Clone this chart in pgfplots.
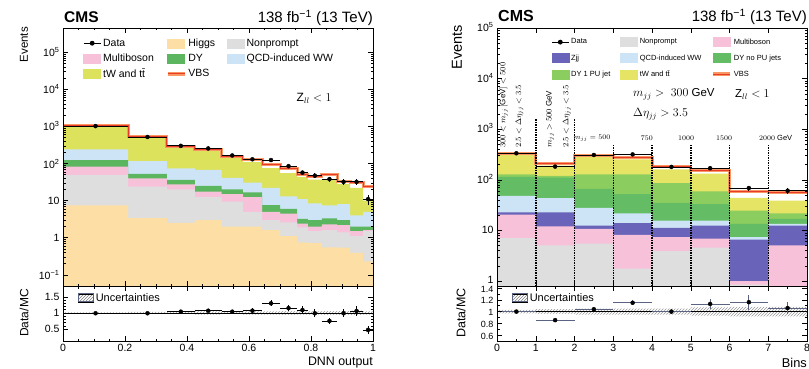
\documentclass[border=0pt]{standalone}
\usepackage{fontspec}
\setmainfont{Liberation Sans}
\usepackage{pgfplots}
\usepackage{pgfplotstable}
\pgfplotsset{compat=1.18}
\usetikzlibrary{patterns}

\definecolor{higgs}{RGB}{253,222,165}
\definecolor{nonp}{RGB}{222,222,222}
\definecolor{multib}{RGB}{247,193,218}
\definecolor{dyg}{RGB}{92,182,96}
\definecolor{qcdww}{RGB}{204,228,245}
\definecolor{twl}{RGB}{220,226,92}
\definecolor{twr}{RGB}{230,228,100}
\definecolor{vbsred}{RGB}{232,60,40}
\definecolor{vbsor}{RGB}{248,150,100}
\definecolor{zjj}{RGB}{105,100,185}
\definecolor{dyno}{RGB}{100,188,100}
\definecolor{dyone}{RGB}{140,205,95}
\definecolor{unc}{RGB}{90,100,130}

\newcommand\swatch[1]{\addlegendimage{legend image code/.code={\fill[#1] (0pt,-4.5pt) rectangle (17pt,4.5pt);}}}
\newcommand\vbsleg{\addlegendimage{legend image code/.code={\draw[vbsor, line width=3.5pt] (0pt,0pt) -- (17pt,0pt); \draw[vbsred, line width=1.2pt] (0pt,0pt) -- (17pt,0pt);}}}
\newcommand\uncleg{\addlegendimage{legend image code/.code={\fill[pattern=north east lines, pattern color=gray] (0pt,-4pt) rectangle (15pt,4pt); \draw[line width=0.6pt, unc] (0pt,-4pt) rectangle (15pt,4pt);}}}

\pgfplotsset{
  cms/.style={
    scale only axis, width=310pt,
    tick align=inside,
    major tick length=5pt, minor tick length=2.5pt,
    axis line style={line width=0.7pt},
    every tick/.style={black, line width=0.5pt},
    tick label style={font=\fontsize{10.5}{12}\selectfont},
    /pgf/number format/assume math mode=true,
    axis on top,
  }
}

% left stack: cumulative tops, bin left edges
\pgfplotstableread{
x     higgs np   mb   dy   ww   tw   tot
0     7.5   49   82   124  240  980  1030
0.21  3.4   24   40   53   117  500  525
0.335 2.5   20   27.6 36   74   275  290
0.425 3.0   12.4 17.5 25   67   225  245
0.512 2.0   9.4  15   20   41   140  158
0.58  2.0   5.0  12.4 16.6 30.5 110  125
0.642 1.6   3.0  5.0  7.6  22   75   95
0.70  1.1   2.6  4.5  6.0  13   55   74
0.755 0.75  1.9  2.4  3.2  11   44   52
0.79  0.72  1.5  2.0  3.0  8.5  37   46
0.835 0.55  1.6  2.3  3.3  7.5  36   51
0.884 0.54  1.4  2.2  3.0  8.0  28   32
0.926 0.39  1.1  1.5  2.0  4.0  22   30
0.968 0.23  1.5  1.6  2.0  5.0  10   24
1.0   0.23  1.5  1.6  2.0  5.0  10   24
}\LS

\pgfplotstableread{
x      y    ex     ey   r    er
0.105  1020 0.105  32   0.99 0.03
0.2725 520  0.0625 23   0.99 0.04
0.38   300  0.045  17   1.04 0.05
0.4685 255  0.0435 16   1.07 0.05
0.546  165  0.034  13   1.04 0.06
0.611  130  0.031  11   1.07 0.07
0.671  124  0.029  11   1.30 0.09
0.7275 85   0.0275 9    1.15 0.10
0.7725 57   0.0175 7.5  1.09 0.12
0.8125 47   0.0225 7    0.99 0.12
0.8595 38   0.0245 6    0.75 0.10
0.905  32   0.021  5.7  0.99 0.13
0.947  32   0.021  5.7  1.06 0.15
0.984  11   0.016  3.3  0.47 0.12
}\LD

\pgfplotstableread{
x     lo   up
0     0.98 1.02
0.21  0.97 1.03
0.335 0.96 1.04
0.425 0.95 1.05
0.512 0.96 1.04
0.58  0.95 1.05
0.642 0.95 1.05
0.70  0.94 1.06
0.755 0.95 1.05
0.79  0.95 1.05
0.835 0.94 1.06
0.884 0.94 1.06
0.926 0.93 1.07
0.968 0.95 1.05
1.0   0.95 1.05
}\LU

% right stack: cumulative tops
\pgfplotstableread{
x np   mb   zjj  ww   dyno dyone tw   tot
0 7.1  20.5 22.8 48.5 114  129   309  335
1 5.1  12   22.8 43.6 111  120   190  215
2 5.5  10.8 12.5 27.9 66   129   282  300
3 1.77 8.2  13.9 21.8 52   129   253  278
4 3.9  7.4  11.3 15.7 35   86    162  180
5 4.6  6.9  12.5 15.7 33   59    133  152
6 0.85 1.0  6.6  7.4  13.5 24.7  44   60
7 0.5  5.1  12.5 13.5 17   21.8  38.7 57
8 0.5  5.1  12.5 13.5 17   21.8  38.7 57
}\RS

\pgfplotstableread{
x   y   ex  ey  r     er
0.5 335 0.5 18  1.00  0.03
1.5 183 0.5 14  0.855 0.03
2.5 310 0.5 18  1.04  0.03
3.5 318 0.5 18  1.15  0.04
4.5 180 0.5 13  1.00  0.04
5.5 170 0.5 13  1.13  0.08
6.5 69  0.5 8   1.16  0.13
7.5 61  0.5 8   1.06  0.10
}\RD

\pgfplotstableread{
x lo   up
0 0.97 1.03
1 0.96 1.04
2 0.95 1.05
3 0.95 1.05
4 0.95 1.05
5 0.93 1.07
6 0.92 1.08
7 0.92 1.08
8 0.92 1.08
}\RU

\begin{document}
\begin{tikzpicture}
\useasboundingbox (0,0) rectangle (809pt,-369pt);

% ================= LEFT UPPER =================
\begin{axis}[cms, at={(63pt,-28pt)}, anchor=north west, height=258pt,
  xmin=0, xmax=1, ymode=log, ymin=0.05, ymax=4.5e5, log origin y=infty,
  xtick={0,0.2,0.4,0.6,0.8,1}, xticklabels={}, minor x tick num=3,
  ytick={0.1,1,10,100,1000,10000,100000},
  yticklabels={10\textsuperscript{−1},1,10,10\textsuperscript{2},10\textsuperscript{3},10\textsuperscript{4},10\textsuperscript{5}},
  legend columns=3, legend cell align=left,
  legend style={draw=none, fill=none, at={(0.055,0.975)}, anchor=north west,
    font=\fontsize{10.5}{12}\selectfont, row sep=2pt,
    /tikz/every even column/.append style={column sep=10pt}},
]
\addlegendimage{black, mark=*, mark size=2pt, line width=0.8pt}\addlegendentry{Data}
\swatch{higgs}\addlegendentry{Higgs}
\swatch{nonp}\addlegendentry{Nonprompt}
\swatch{multib}\addlegendentry{Multiboson}
\swatch{dyg}\addlegendentry{DY}
\swatch{qcdww}\addlegendentry{QCD-induced WW}
\swatch{twl}\addlegendentry{tW and t\={t}}
\vbsleg\addlegendentry{VBS}

\addplot[ybar interval, fill=twl, draw=none, forget plot] table[x=x, y=tw] {\LS};
\addplot[ybar interval, fill=qcdww, draw=none, forget plot] table[x=x, y=ww] {\LS};
\addplot[ybar interval, fill=dyg, draw=none, forget plot] table[x=x, y=dy] {\LS};
\addplot[ybar interval, fill=multib, draw=none, forget plot] table[x=x, y=mb] {\LS};
\addplot[ybar interval, fill=nonp, draw=none, forget plot] table[x=x, y=np] {\LS};
\addplot[ybar interval, fill=higgs, draw=none, forget plot] table[x=x, y=higgs] {\LS};
\addplot[const plot, vbsor, line width=3pt, forget plot] table[x=x, y=tot] {\LS};
\addplot[const plot, vbsred, line width=1pt, forget plot] table[x=x, y=tot] {\LS};
\addplot[only marks, mark=*, mark size=2pt, black, forget plot,
  error bars/.cd, x dir=both, x explicit, y dir=both, y explicit,
  error bar style={line width=0.8pt}, error mark=none]
  table[x=x, y=y, x error=ex, y error=ey] {\LD};
\node[font=\fontsize{12}{13}\selectfont] at (axis cs:0.81,5800) {$\mathrm{Z}_{ll} < 1$};
\end{axis}

% ================= LEFT RATIO =================
\begin{axis}[cms, at={(63pt,-286pt)}, anchor=north west, height=55pt,
  xmin=0, xmax=1, ymin=0.125, ymax=1.84,
  xtick={0,0.2,0.4,0.6,0.8,1}, xticklabels={0,0.2,0.4,0.6,0.8,1}, minor x tick num=3,
  ytick={0.5,1,1.5}, yticklabels={0.5,1,1.5}, minor y tick num=4,
  legend cell align=left,
  legend style={draw=none, fill=none, at={(0.045,0.93)}, anchor=north west,
    font=\fontsize{11}{12}\selectfont, inner sep=1pt},
]
\uncleg\addlegendentry{Uncertainties}
\addplot[ybar interval, draw=none, pattern=north east lines, pattern color=gray!80, forget plot] table[x=x, y=up] {\LU};
\addplot[ybar interval, draw=none, fill=white, forget plot] table[x=x, y=lo] {\LU};
\addplot[black, line width=0.6pt, forget plot] coordinates {(0,1) (1,1)};
\addplot[only marks, mark=*, mark size=2pt, black, forget plot,
  error bars/.cd, x dir=both, x explicit, y dir=both, y explicit,
  error bar style={line width=0.8pt}, error mark=none]
  table[x=x, y=r, x error=ex, y error=er] {\LD};
\end{axis}

% ================= RIGHT UPPER =================
\begin{axis}[cms, at={(497pt,-28pt)}, anchor=north west, height=258pt,
  xmin=0, xmax=8, ymode=log, ymin=0.8, ymax=1e5, log origin y=infty,
  xtick={0,1,2,3,4,5,6,7,8}, xticklabels={},
  ytick={1,10,100,1000,10000,100000},
  yticklabels={1,10,10\textsuperscript{2},10\textsuperscript{3},10\textsuperscript{4},10\textsuperscript{5}},
  yticklabel style={yshift=1pt},
  legend columns=3, legend cell align=left,
  legend style={draw=none, fill=none, at={(0.165,0.975)}, anchor=north west,
    font=\fontsize{7.5}{9}\selectfont, row sep=5pt,
    /tikz/every even column/.append style={column sep=8pt}},
]
\addlegendimage{black, mark=*, mark size=2pt, line width=0.8pt}\addlegendentry{Data}
\swatch{nonp}\addlegendentry{Nonprompt}
\swatch{multib}\addlegendentry{Multiboson}
\swatch{zjj}\addlegendentry{Zjj}
\swatch{qcdww}\addlegendentry{QCD-induced WW}
\swatch{dyno}\addlegendentry{DY no PU jets}
\swatch{dyone}\addlegendentry{DY 1 PU jet}
\swatch{twr}\addlegendentry{tW and t\={t}}
\vbsleg\addlegendentry{VBS}

\addplot[ybar interval, fill=twr, draw=none, forget plot] table[x=x, y=tw] {\RS};
\addplot[ybar interval, fill=dyone, draw=none, forget plot] table[x=x, y=dyone] {\RS};
\addplot[ybar interval, fill=dyno, draw=none, forget plot] table[x=x, y=dyno] {\RS};
\addplot[ybar interval, fill=qcdww, draw=none, forget plot] table[x=x, y=ww] {\RS};
\addplot[ybar interval, fill=zjj, draw=none, forget plot] table[x=x, y=zjj] {\RS};
\addplot[ybar interval, fill=multib, draw=none, forget plot] table[x=x, y=mb] {\RS};
\addplot[ybar interval, fill=nonp, draw=none, forget plot] table[x=x, y=np] {\RS};
\addplot[const plot, vbsor, line width=3pt, forget plot] table[x=x, y=tot] {\RS};
\addplot[const plot, vbsred, line width=1pt, forget plot] table[x=x, y=tot] {\RS};
\draw[black, line width=1.5pt, dash pattern=on 1.5pt off 1pt] (axis cs:1,0.8) -- (axis cs:1,1570);
\draw[black, line width=1.5pt, dash pattern=on 1.5pt off 1pt] (axis cs:2,0.8) -- (axis cs:2,1570);
\draw[black, line width=1.5pt, dash pattern=on 1.5pt off 1pt] (axis cs:3,0.8) -- (axis cs:3,520);
\draw[black, line width=1.5pt, dash pattern=on 1.5pt off 1pt] (axis cs:4,0.8) -- (axis cs:4,520);
\draw[black, line width=1.5pt, dash pattern=on 1.5pt off 1pt] (axis cs:5,0.8) -- (axis cs:5,520);
\draw[black, line width=1.5pt, dash pattern=on 1.5pt off 1pt] (axis cs:6,0.8) -- (axis cs:6,520);
\draw[black, line width=1.5pt, dash pattern=on 1.5pt off 1pt] (axis cs:7,0.8) -- (axis cs:7,520);
\addplot[only marks, mark=*, mark size=2pt, black, forget plot,
  error bars/.cd, x dir=both, x explicit, y dir=both, y explicit,
  error bar style={line width=0.8pt}, error mark=none]
  table[x=x, y=y, x error=ex, y error=ey] {\RD};
\node[rotate=90, anchor=west, inner sep=0, font=\fontsize{8}{9}\selectfont] at (axis cs:0.17,425) {$300 < m_{jj}\,[\mathrm{GeV}] < 500$};
\node[rotate=90, anchor=west, inner sep=0, font=\fontsize{8}{9}\selectfont] at (axis cs:0.58,425) {$2.5 < \Delta\eta_{jj} < 3.5$};
\node[rotate=90, anchor=west, inner sep=0, font=\fontsize{8}{9}\selectfont] at (axis cs:1.37,425) {$m_{jj} > 500\ \mathrm{GeV}$};
\node[rotate=90, anchor=west, inner sep=0, font=\fontsize{8}{9}\selectfont] at (axis cs:1.8,425) {$2.5 < \Delta\eta_{jj} < 3.5$};
\node[anchor=east, inner sep=0, font=\fontsize{7.5}{9}\selectfont] at (axis cs:2.93,665) {$m_{jj} = 500$};
\node[inner sep=0, font=\fontsize{7.5}{9}\selectfont] at (axis cs:3.87,665) {$750$};
\node[inner sep=0, font=\fontsize{7.5}{9}\selectfont] at (axis cs:4.88,665) {$1000$};
\node[inner sep=0, font=\fontsize{7.5}{9}\selectfont] at (axis cs:5.86,665) {$1500$};
\node[anchor=west, inner sep=0, font=\fontsize{7.5}{9}\selectfont] at (axis cs:6.76,665) {$2000\ \mathrm{GeV}$};
\node[anchor=west, inner sep=0, font=\fontsize{11.5}{12}\selectfont] at (axis cs:3.51,4880) {$m_{jj} >\ 300\ \mathrm{GeV}$};
\node[anchor=west, inner sep=0, font=\fontsize{11.5}{12}\selectfont] at (axis cs:6.14,4880) {$\mathrm{Z}_{ll} < 1$};
\node[anchor=west, inner sep=0, font=\fontsize{11.5}{12}\selectfont] at (axis cs:3.51,1970) {$\Delta\eta_{jj} > 3.5$};
\end{axis}

% ================= RIGHT RATIO =================
\begin{axis}[cms, at={(497pt,-286pt)}, anchor=north west, height=55pt,
  xmin=0, xmax=8, ymin=0.5, ymax=1.435,
  xtick={0,1,2,3,4,5,6,7,8}, xticklabels={0,1,2,3,4,5,6,7,8}, minor x tick num=1,
  ytick={0.6,0.8,1,1.2,1.4}, yticklabels={0.6,0.8,1,1.2,1.4}, minor y tick num=1,
  yticklabel style={font=\fontsize{9}{10}\selectfont, yshift=-1pt},
  legend cell align=left,
  legend style={draw=none, fill=none, at={(0.045,0.93)}, anchor=north west,
    font=\fontsize{11}{12}\selectfont, inner sep=1pt},
]
\uncleg\addlegendentry{Uncertainties}
\addplot[ybar interval, draw=none, pattern=north east lines, pattern color=gray!80, forget plot] table[x=x, y=up] {\RU};
\addplot[ybar interval, draw=none, fill=white, forget plot] table[x=x, y=lo] {\RU};
\addplot[black, line width=0.6pt, forget plot] coordinates {(0,1) (8,1)};
\addplot[only marks, mark=*, mark size=2pt, black, forget plot,
  error bars/.cd, x dir=both, x explicit, y dir=both, y explicit,
  error bar style={line width=0.8pt, unc}, error mark=none]
  table[x=x, y=r, x error=ex, y error=er] {\RD};
\end{axis}

% ================= TEXT OUTSIDE =================
\node[anchor=base west, inner sep=0, font=\bfseries\fontsize{15.5}{16}\selectfont] at (64pt,-23pt) {CMS};
\node[anchor=base east, inner sep=0, font=\fontsize{15}{16}\selectfont] at (373pt,-23pt) {138 fb\textsuperscript{−1} (13 TeV)};
\node[anchor=base west, inner sep=0, font=\bfseries\fontsize{16}{16}\selectfont] at (498pt,-22pt) {CMS};
\node[anchor=base east, inner sep=0, font=\fontsize{15}{16}\selectfont] at (807pt,-22pt) {138 fb\textsuperscript{−1} (13 TeV)};

\node[rotate=90, anchor=east, inner sep=0, font=\fontsize{11.5}{12}\selectfont] at (24pt,-27pt) {Events};
\node[rotate=90, inner sep=0, font=\fontsize{12}{13}\selectfont] at (24pt,-313pt) {Data/MC};
\node[rotate=90, anchor=east, inner sep=0, font=\fontsize{14.5}{15}\selectfont] at (457pt,-25pt) {Events};
\node[rotate=90, inner sep=0, font=\fontsize{12.5}{13}\selectfont] at (461pt,-313pt) {Data/MC};

\node[anchor=base east, inner sep=0, font=\fontsize{12.4}{13}\selectfont] at (373pt,-365pt) {DNN output};
\node[anchor=base east, inner sep=0, font=\fontsize{12.8}{13}\selectfont] at (807pt,-367pt) {Bins};
\end{tikzpicture}
\end{document}
